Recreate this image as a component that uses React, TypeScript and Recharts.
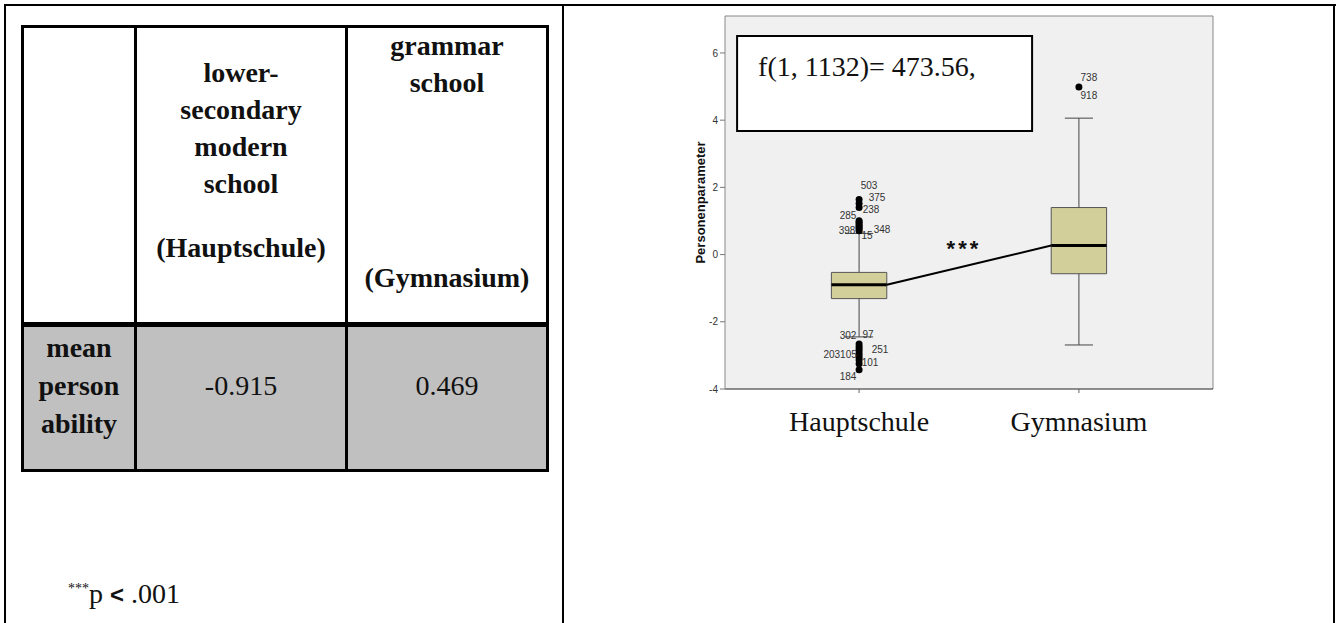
import React from 'react';
import {
  ScatterChart, Scatter, XAxis, YAxis, CartesianGrid, ReferenceArea, ReferenceLine, ReferenceDot,
} from 'recharts';

// box plot data (Personenparameter by school type)
const schools = ['Hauptschule', 'Gymnasium'];
const medians = [-0.9, 0.27];
const q1s = [-1.31, -0.57];
const q3s = [-0.53, 1.4];
const whiskerLow = [-2.45, -2.69];
const whiskerHigh = [0.63, 4.06];

const outliersHaupt = [1.64, 1.52, 1.4, 1.01, 0.96, 0.91, 0.86, 0.81, 0.76, 0.71,
  -2.66, -2.74, -2.82, -2.9, -2.98, -3.06, -3.14, -3.25, -3.43];
const outliersGym = [4.99];

const outlierLabels = [
  { school: 1, value: 1.64, id: '503' },
  { school: 1, value: 1.52, id: '375' },
  { school: 1, value: 1.4, id: '238' },
  { school: 1, value: 1.01, id: '285' },
  { school: 1, value: 0.76, id: '348' },
  { school: 1, value: 0.71, id: '398' },
  { school: 1, value: 0.71, id: '15' },
  { school: 1, value: -2.66, id: '302' },
  { school: 1, value: -2.66, id: '97' },
  { school: 1, value: -2.82, id: '251' },
  { school: 1, value: -2.98, id: '203105' },
  { school: 1, value: -3.25, id: '101' },
  { school: 1, value: -3.43, id: '184' },
  { school: 2, value: 4.99, id: '738' },
  { school: 2, value: 4.99, id: '918' },
];

// tableau
const tableHead2 = ['lower-', 'secondary', 'modern', 'school'];
const tableHead3 = ['grammar', 'school'];
const meanAbility = ['-0.915', '0.469'];

// pixel offsets of the outlier ids relative to their dot
const labelOffsets: Record<string, [number, number]> = {
  '503': [10, -14], '375': [18, -6], '238': [12, 2], '285': [-11, -5],
  '348': [23, 0], '398': [-12, 0], '15': [8, 5], '302': [-11, -8], '97': [9, -9],
  '251': [21, 0], '203105': [-19, 0], '101': [11, -1], '184': [-11, 7],
  '738': [10, -9], '918': [10, 9],
};

const serif = '"Liberation Serif", "Times New Roman", serif';
const sans = '"Liberation Sans", Arial, sans-serif';
const BOX_HW = 0.126;
const CAP_HW = 0.064;
const Y_MAX = 7.1;
const X_MIN = 0.39;
const X_MAX = 2.61;

const Dot = (p: any) => <circle cx={p.cx} cy={p.cy} r={3.5} fill="#000" />;

const IdLabel = (p: any) => {
  const [dx, dy] = labelOffsets[p.payload.id] || [0, 0];
  return (
    <text x={p.cx + dx} y={p.cy + dy} textAnchor="middle" dominantBaseline="central"
      fontSize={10} fontFamily={sans} fill="#333">{p.payload.id}</text>
  );
};

const XTick = (p: any) => (
  <text x={p.x} y={p.y + 36} textAnchor="middle" fontSize={28} fontFamily={serif} fill="#111">
    {schools[p.payload.value - 1]}
  </text>
);

const Frame = ({ left, top, width, height }: any) => (
  <div style={{ position: 'absolute', left, top, width, height, background: '#000' }} />
);

const Cell = ({ text, cx, cy, bold }: any) => (
  <div style={{
    position: 'absolute', left: cx - 110, top: cy - 18, width: 220, height: 37, lineHeight: '37px',
    textAlign: 'center', fontFamily: serif, fontSize: 28, fontWeight: bold ? 'bold' : 'normal', color: '#111',
  }}>{text}</div>
);

const ScoreTable = () => (
  <>
    <div style={{ position: 'absolute', left: 22, top: 327, width: 526, height: 143, background: '#c0c0c0' }} />
    <Frame left={22} top={25} width={526} height={3} />
    <Frame left={22} top={322} width={526} height={5} />
    <Frame left={22} top={469} width={526} height={3} />
    <Frame left={21} top={25} width={3} height={447} />
    <Frame left={134} top={25} width={3} height={447} />
    <Frame left={345} top={25} width={3} height={447} />
    <Frame left={546} top={25} width={3} height={447} />
    {tableHead2.map((t, i) => <Cell key={'h2' + i} text={t} cx={241} cy={72 + i * 37} bold />)}
    <Cell text="(Hauptschule)" cx={241} cy={247} bold />
    {tableHead3.map((t, i) => <Cell key={'h3' + i} text={t} cx={447} cy={45 + i * 37} bold />)}
    <Cell text="(Gymnasium)" cx={447} cy={277} bold />
    {['mean', 'person', 'ability'].map((t, i) => <Cell key={'m' + i} text={t} cx={79} cy={347 + i * 38} bold />)}
    <Cell text={meanAbility[0]} cx={241} cy={385} />
    <Cell text={meanAbility[1]} cx={447} cy={385} />
    <div style={{ position: 'absolute', left: 68, top: 578, fontFamily: serif, fontSize: 28, color: '#111', whiteSpace: 'nowrap' }}>
      <span style={{ fontSize: 14, verticalAlign: 'super' }}>***</span>p <b style={{ fontFamily: sans, fontSize: 24 }}>&lt;</b> .001
    </div>
  </>
);

const BoxChart = () => {
  const hauptDots = outliersHaupt.map((v) => ({ x: 1, y: v }));
  const gymDots = outliersGym.map((v) => ({ x: 2, y: v }));
  const labelData = outlierLabels.map((l) => ({ x: l.school, y: l.value, id: l.id }));
  return (
    <ScatterChart width={580} height={440} margin={{ top: 16, right: 27, bottom: 6, left: 25 }}>
      <CartesianGrid horizontal={false} vertical={false} fill="#f0f0f0" />
      <XAxis type="number" dataKey="x" domain={[X_MIN, X_MAX]} ticks={[1, 2]} allowDataOverflow
        height={45} axisLine={{ stroke: '#222' }} tickLine={{ stroke: '#666' }} tickSize={4} tick={<XTick />} />
      <YAxis type="number" dataKey="y" domain={[-4, Y_MAX]} ticks={[-4, -2, 0, 2, 4, 6]} allowDataOverflow
        width={40} axisLine={{ stroke: '#888' }} tickLine={{ stroke: '#777' }} tickSize={5}
        tick={{ fontSize: 10, fontFamily: sans, fill: '#333' }}
        label={{
          content: (p: any) => {
            const vb = p.viewBox || { x: 0, y: 0, width: 0, height: 0 };
            const cx = vb.x + 15;
            const cy = vb.y + vb.height / 2;
            return (
              <text x={cx} y={cy} transform={`rotate(-90 ${cx} ${cy})`} textAnchor="middle"
                dominantBaseline="central" fontSize={13} fontWeight="bold" fontFamily={sans} fill="#111">
                Personenparameter
              </text>
            );
          },
        }} />
      <ReferenceLine y={Y_MAX} stroke="#888" ifOverflow="visible" />
      <ReferenceLine x={X_MAX} stroke="#888" ifOverflow="visible" />

      <ReferenceArea x1={0.445} x2={1.787} y1={3.68} y2={6.505} fill="#fff" fillOpacity={1} stroke="#000" strokeWidth={2}
        label={{
          content: (p: any) => {
            const vb = p.viewBox || { x: 0, y: 0 };
            return (
              <text x={vb.x + 21} y={vb.y + 40} fontSize={28} fontFamily={serif} fill="#111">
                f(1, 1132)= 473.56,
              </text>
            );
          },
        }} />

      {schools.map((s, i) => (
        <React.Fragment key={s}>
          <ReferenceLine segment={[{ x: i + 1, y: q3s[i] }, { x: i + 1, y: whiskerHigh[i] }]} stroke="#444" />
          <ReferenceLine segment={[{ x: i + 1, y: q1s[i] }, { x: i + 1, y: whiskerLow[i] }]} stroke="#444" />
          <ReferenceLine segment={[{ x: i + 1 - CAP_HW, y: whiskerHigh[i] }, { x: i + 1 + CAP_HW, y: whiskerHigh[i] }]} stroke="#444" />
          <ReferenceLine segment={[{ x: i + 1 - CAP_HW, y: whiskerLow[i] }, { x: i + 1 + CAP_HW, y: whiskerLow[i] }]} stroke="#444" />
          <ReferenceArea x1={i + 1 - BOX_HW} x2={i + 1 + BOX_HW} y1={q1s[i]} y2={q3s[i]}
            fill="#d3cf9b" fillOpacity={1} stroke="#555" strokeWidth={1} />
          <ReferenceLine segment={[{ x: i + 1 - BOX_HW, y: medians[i] }, { x: i + 1 + BOX_HW, y: medians[i] }]}
            stroke="#000" strokeWidth={3} />
        </React.Fragment>
      ))}

      <ReferenceLine segment={[{ x: 1 + BOX_HW, y: medians[0] }, { x: 2 - BOX_HW, y: medians[1] }]}
        stroke="#000" strokeWidth={2} />

      <ReferenceDot x={1.477} y={0.314} r={0} fill="none" stroke="none"
        label={{
          content: (p: any) => {
            const vb = p.viewBox || { x: 0, y: 0 };
            const cx = vb.cx ?? vb.x;
            const cy = vb.cy ?? vb.y;
            return (
              <text x={cx} y={cy + 12} textAnchor="middle" fontSize={22} fontWeight="bold" letterSpacing={3}
                fontFamily={sans} fill="#111">***</text>
            );
          },
        }} />

      <Scatter data={hauptDots} shape={<Dot />} isAnimationActive={false} />
      <Scatter data={gymDots} shape={<Dot />} isAnimationActive={false} />
      <Scatter data={labelData} shape={<IdLabel />} isAnimationActive={false} />
    </ScatterChart>
  );
};

export default function App() {
  return (
    <div style={{ position: 'absolute', left: 0, top: 0, width: 1338, height: 623, background: '#fff', overflow: 'hidden' }}>
      {/* outer frame */}
      <Frame left={4} top={4} width={1332} height={2} />
      <Frame left={4} top={4} width={2} height={640} />
      <Frame left={562} top={4} width={2} height={640} />
      <Frame left={1333} top={4} width={2} height={640} />
      <ScoreTable />
      <div style={{ position: 'absolute', left: 660, top: 0 }}>
        <BoxChart />
      </div>
    </div>
  );
}
